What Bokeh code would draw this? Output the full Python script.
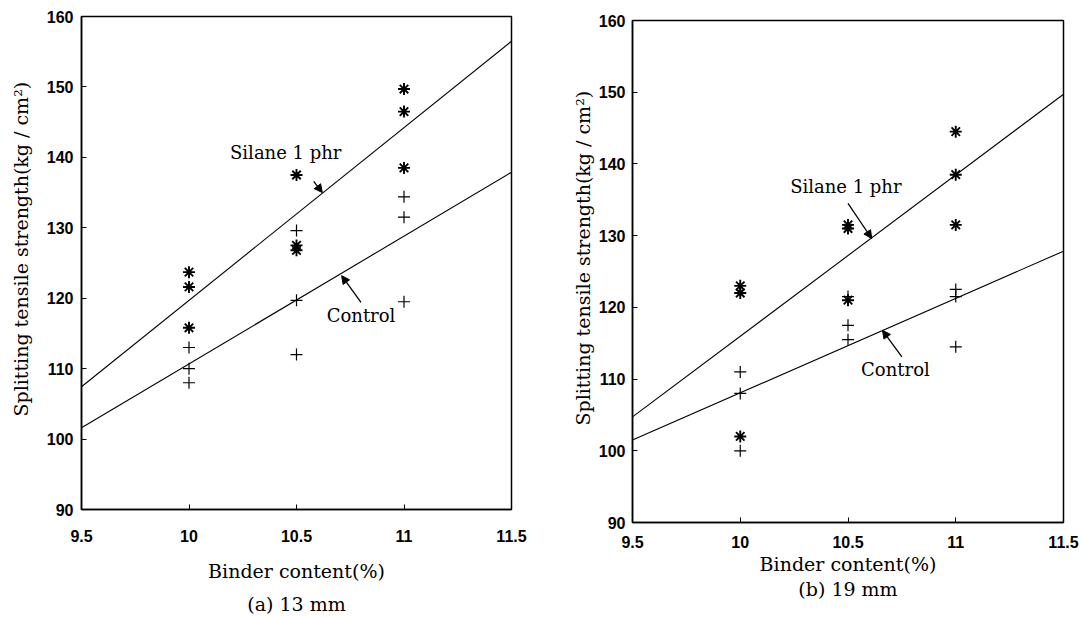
import numpy as np
from bokeh.plotting import figure
from bokeh.layouts import row
from bokeh.models import Range1d, FixedTicker, Arrow, NormalHead, Label, LinearAxis, Title
from bokeh.embed import file_html
from bokeh.resources import INLINE

# ---------------- data ----------------
x_ticks = [9.5, 10, 10.5, 11, 11.5]
x_tick_labels = ["9.5", "10", "10.5", "11", "11.5"]
y_ticks = [90, 100, 110, 120, 130, 140, 150, 160]
y_tick_labels = ["90", "100", "110", "120", "130", "140", "150", "160"]

# (a) 13 mm
a_silane_x = [10, 10, 10, 10.5, 10.5, 10.5, 11, 11, 11]
a_silane_y = [123.7, 121.6, 115.8, 137.5, 127.5, 126.8, 149.7, 146.5, 138.5]
a_control_x = [10, 10, 10, 10.5, 10.5, 10.5, 11, 11, 11]
a_control_y = [113.0, 110.0, 108.0, 129.6, 119.7, 112.0, 134.4, 131.5, 119.5]

# (b) 19 mm
b_silane_x = [10, 10, 10, 10.5, 10.5, 10.5, 11, 11, 11]
b_silane_y = [123.0, 122.0, 102.0, 131.5, 131.0, 121.0, 144.5, 138.5, 131.5]
b_control_x = [10, 10, 10, 10.5, 10.5, 10.5, 11, 11, 11]
b_control_y = [111.0, 108.0, 100.0, 121.5, 117.5, 115.5, 122.5, 121.5, 114.5]

titles = ["(a) 13 mm", "(b) 19 mm"]
x_label = "Binder content(%)"
y_label = "Splitting tensile strength(kg / cm\u00b2)"
silane_name = "Silane 1 phr"
control_name = "Control"

SERIF = "DejaVu Serif"
SANS = "Liberation Sans"


def make_panel(title, sx, sy, cx, cy, width, height, mb, tick_stand, lab_stand, cap_stand,
               ylab_offset, ylab_stand, ylab_valign, silane_lab, silane_arrow,
               control_lab, control_arrow):
    p = figure(width=width, height=height, x_range=Range1d(9.5, 11.5), y_range=Range1d(90, 160),
               output_backend="svg", toolbar_location=None,
               min_border_left=mb[0], min_border_right=mb[1], min_border_top=mb[2],
               min_border_bottom=mb[3], background_fill_color="white", border_fill_color="white")
    if "frame_align" in p.properties():
        p.frame_align = False
    p.grid.visible = False
    p.outline_line_color = "black"
    p.outline_line_width = 1.5
    p.outline_line_alpha = 1.0

    for ax in (p.xaxis[0], p.yaxis[0]):
        ax.axis_line_color = "black"
        ax.axis_line_width = 1.5
        ax.major_tick_in = 5
        ax.major_tick_out = 0
        ax.major_tick_line_color = "black"
        ax.major_tick_line_width = 1
        ax.minor_tick_line_color = None
        ax.major_label_text_font = SANS
        ax.major_label_text_font_style = "bold"
        ax.major_label_text_font_size = "16px"
        ax.major_label_text_color = "black"
        ax.axis_label_text_font = SERIF
        ax.axis_label_text_font_size = "19px"
        ax.axis_label_text_font_style = "normal"
        ax.axis_label_text_color = "black"

    p.xaxis.ticker = FixedTicker(ticks=x_ticks)
    p.xaxis.major_label_overrides = {t: l for t, l in zip(x_ticks, x_tick_labels)}
    p.yaxis.ticker = FixedTicker(ticks=y_ticks)
    p.yaxis.major_label_overrides = {t: l for t, l in zip(y_ticks, y_tick_labels)}
    p.xaxis.axis_label = x_label
    p.xaxis.major_label_standoff = tick_stand[0]
    p.yaxis.major_label_standoff = tick_stand[1]
    p.xaxis.axis_label_standoff = lab_stand

    # y title placed along the left side, shifted up from the frame bottom
    p.add_layout(Title(text=y_label, align="left", offset=ylab_offset, standoff=ylab_stand,
                       vertical_align=ylab_valign,
                       text_font=SERIF, text_font_size="19px", text_font_style="normal",
                       text_color="black"), "left")

    # caption below the x axis title, as a bare axis
    cap = LinearAxis(ticker=FixedTicker(ticks=[]), axis_label=title, axis_line_color=None,
                     major_tick_line_color=None, minor_tick_line_color=None,
                     major_tick_in=0, major_tick_out=0, minor_tick_in=0, minor_tick_out=0,
                     major_label_standoff=0, axis_label_standoff=cap_stand,
                     axis_label_text_font=SERIF, axis_label_text_font_size="19px",
                     axis_label_text_font_style="normal", axis_label_text_color="black")
    p.add_layout(cap, "below")

    # regression lines from the data
    xs = np.array([9.5, 11.5])
    for xx, yy in ((sx, sy), (cx, cy)):
        k, b = np.polyfit(np.array(xx, float), np.array(yy, float), 1)
        p.line(xs, k * xs + b, line_color="black", line_width=1.1)

    p.scatter(sx, sy, marker="asterisk", size=12, line_color="black", line_width=1.9)
    p.scatter(cx, cy, marker="cross", size=12, line_color="black", line_width=1.2)

    for (lx, ly, txt), (x0, y0, x1, y1) in ((silane_lab, silane_arrow), (control_lab, control_arrow)):
        p.add_layout(Label(x=lx, y=ly, text=txt, text_align="center", text_baseline="middle",
                           text_font=SERIF, text_font_size="18px", text_color="black"))
        p.add_layout(Arrow(x_start=x0, y_start=y0, x_end=x1, y_end=y1, line_color="black",
                           line_width=1.3,
                           end=NormalHead(size=8, fill_color="black", line_color="black")))
    return p


p1 = make_panel(titles[0], a_silane_x, a_silane_y, a_control_x, a_control_y,
                560, 617, (81, 49, 16, 106), (20, 8), 15, 8, 93, 19, "top",
                (10.45, 140.7, silane_name), (10.58, 136.6, 10.62, 135.0),
                (10.80, 117.6, control_name), (10.80, 119.4, 10.71, 123.2))
p2 = make_panel(titles[1], b_silane_x, b_silane_y, b_control_x, b_control_y,
                522, 617, (72, 19, 20, 95), (13, 7), 2, 0, 97, 3, "bottom",
                (10.49, 136.8, silane_name), (10.50, 134.5, 10.61, 129.6),
                (10.72, 111.3, control_name), (10.75, 113.1, 10.66, 116.8))

layout = row(p1, p2)
open("out.html", "w").write(file_html(layout, INLINE))
